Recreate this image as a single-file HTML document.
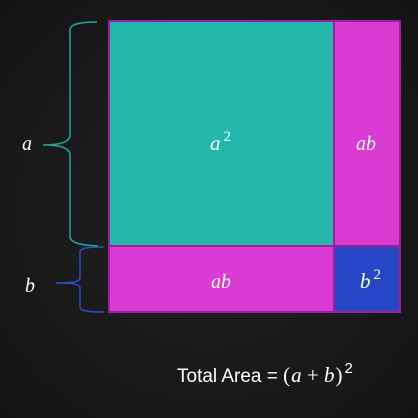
<!DOCTYPE html>
<html><head><meta charset="utf-8"><style>
body{margin:0;width:418px;height:418px;overflow:hidden;background:#1b1b1b}
svg{display:block}
text{font-family:"Liberation Serif",serif;font-style:italic;fill:#fff}
</style></head><body>
<svg width="418" height="418">
<defs><radialGradient id="bg" cx="50%" cy="50%" r="70%"><stop offset="0" stop-color="#222"/><stop offset="1" stop-color="#141414"/></radialGradient></defs>
<rect width="418" height="418" fill="url(#bg)"/>
<g stroke="#9c1f9c" stroke-width="2">
<rect x="109" y="21" width="225" height="225" fill="#23b8aa"/>
<rect x="334" y="21" width="66" height="225" fill="#d93bd3"/>
<rect x="109" y="246" width="225" height="66" fill="#d93bd3"/>
<rect x="334" y="246" width="66" height="66" fill="#2549c6"/>
</g>
<path d="M97,22 C80,22 70,24 70,30 L70,135 C70,142 60,145 43,145 C60,145 70,148 70,155 L70,236 C70,243 80,245 98,246" fill="none" stroke="#23a596" stroke-width="1.5"/>
<path d="M104,247 C88,247 80,248 80,252 L80,278 C80,282 72,283 56,283 C72,283 80,284 80,288 L80,307 C80,311 88,312 104,312" fill="none" stroke="#2a4cc8" stroke-width="1.5"/>
<text x="22" y="150" font-size="20">a</text>
<text x="25" y="292" font-size="20">b</text>
<text x="210" y="150" font-size="21">a<tspan font-size="15" font-style="normal" dx="3" dy="-9">2</tspan></text>
<text x="356" y="150" font-size="20">ab</text>
<text x="211" y="288" font-size="20">ab</text>
<text x="360" y="288" font-size="21">b<tspan font-size="15" font-style="normal" dx="3" dy="-9">2</tspan></text>
<text x="177" y="382" font-size="19" style="font-family:'Liberation Sans',sans-serif;font-style:normal">Total Area = <tspan style="font-family:'Liberation Serif',serif" font-size="21">(</tspan><tspan style="font-family:'Liberation Serif',serif;font-style:italic" font-size="21" dx="1">a</tspan><tspan style="font-family:'Liberation Serif',serif" font-size="21"> + </tspan><tspan style="font-family:'Liberation Serif',serif;font-style:italic" font-size="21">b</tspan><tspan style="font-family:'Liberation Serif',serif" font-size="21" dx="1">)</tspan><tspan font-size="15" dx="2" dy="-9">2</tspan></text>
</svg>
</body></html>
